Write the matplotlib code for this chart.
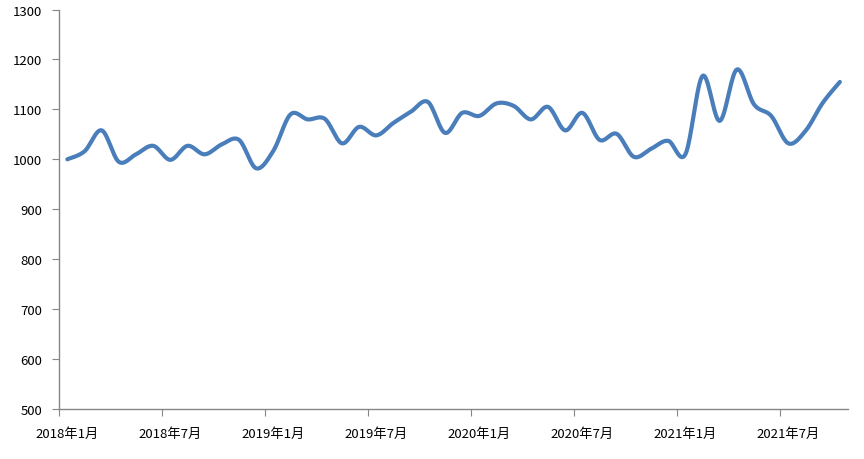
import numpy as np
import matplotlib
matplotlib.use('Agg')
import matplotlib.pyplot as plt

plt.rcParams['font.family'] = ['Noto Sans CJK SC', 'DejaVu Sans']

# 2018年1月 ~ 2021年10月, 월별 값
months = [f'{y}年{m}月' for y in range(2018, 2022) for m in range(1, 13)][:46]
values = [1000, 1016, 1058, 995, 1010, 1027, 999, 1027, 1010, 1030,
          1039, 982, 1017, 1090, 1080, 1081, 1032, 1065, 1048, 1073,
          1095, 1115, 1053, 1093, 1087, 1112, 1107, 1080, 1105, 1058,
          1093, 1039, 1051, 1005, 1021, 1037, 1010, 1167, 1077, 1180,
          1110, 1087, 1032, 1057, 1113, 1155]
y_ticks = [500, 600, 700, 800, 900, 1000, 1100, 1200, 1300]


def smooth(xs, ys, n=20):
    # 엑셀 '부드러운 선' 처럼 Catmull-Rom 베지어로 그리기
    xs = np.asarray(xs, float)
    ys = np.asarray(ys, float)
    px = np.concatenate([[xs[0]], xs, [xs[-1]]])
    py = np.concatenate([[ys[0]], ys, [ys[-1]]])
    t = np.linspace(0, 1, n)[:, None]
    out_x, out_y = [], []
    for i in range(1, len(px) - 2):
        p0 = np.array([px[i], py[i]])
        p3 = np.array([px[i + 1], py[i + 1]])
        p1 = p0 + (np.array([px[i + 1], py[i + 1]]) - np.array([px[i - 1], py[i - 1]])) / 6
        p2 = p3 - (np.array([px[i + 2], py[i + 2]]) - np.array([px[i], py[i]])) / 6
        pts = ((1 - t) ** 3) * p0 + 3 * ((1 - t) ** 2) * t * p1 + 3 * (1 - t) * t ** 2 * p2 + t ** 3 * p3
        out_x.append(pts[:, 0])
        out_y.append(pts[:, 1])
    return np.concatenate(out_x), np.concatenate(out_y)


x = np.arange(len(values))
sx, sy = smooth(x, values)

fig = plt.figure(figsize=(8.64, 4.6), dpi=100)
ax = fig.add_axes([0.068, 0.109, 0.914, 0.868])
ax.plot(sx, sy, color='#4A7EBB', linewidth=3, solid_capstyle='round')

ax.set_xlim(-0.5, len(values) - 0.5)
ax.set_ylim(500, 1300)
ax.set_yticks(y_ticks)

# 눈금은 6개월 경계, 라벨은 해당 월 위치
ax.set_xticks(np.arange(-0.5, len(values), 6))
ax.set_xticklabels([])
ax.set_xticks(np.arange(0, len(values), 6), minor=True)
ax.set_xticklabels(months[::6], minor=True)
ax.tick_params(axis='x', which='minor', length=0, pad=13, labelsize=9.5, colors='black')
ax.tick_params(axis='x', which='major', length=5, color='#868686')
ax.tick_params(axis='y', length=5, pad=7, labelsize=9.5, color='#868686')

for s in ['top', 'right']:
    ax.spines[s].set_visible(False)
for s in ['left', 'bottom']:
    ax.spines[s].set_color('#868686')
    ax.spines[s].set_linewidth(1)

fig.savefig('out.png', dpi=100)
